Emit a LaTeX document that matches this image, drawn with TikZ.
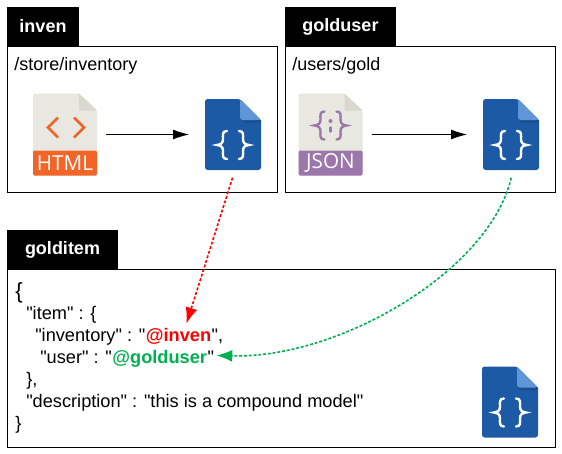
\documentclass[tikz,border=0pt]{standalone}
\usepackage{fontspec}
\setmainfont{Liberation Sans}[Ligatures=TeXOff]
\newfontfamily\iconfont{Open Sans}
\usetikzlibrary{arrows.meta}
\definecolor{fileblue}{HTML}{1C5AA6}
\definecolor{foldblue}{HTML}{5F96D8}
\definecolor{shadeblue}{HTML}{17508F}
\definecolor{sheet}{HTML}{E8E8E0}
\definecolor{sheetfold}{HTML}{D8D8CC}
\definecolor{htmlorange}{HTML}{F16529}
\definecolor{jsonpurple}{HTML}{9B77AB}
\definecolor{refgreen}{HTML}{00B050}
\newcommand{\filesheet}[2]{
  \fill[sheet, rounded corners=1pt] (-32,-41) -- (14,-41) -- (32,-24) -- (32,41) -- (-32,41) -- cycle;
  \fill[sheetfold] (14,-41) -- (32,-24) -- (14,-24) -- cycle;
  \fill[#1, rounded corners=1pt] (-32,16) -- (32,16) -- (32,41) -- (-32,41) -- cycle;
  \node[sheetlabel] (-label) at (0,28.5) {#2};
  \node[filearea, minimum width=48pt, minimum height=61.5pt] (-box) at (0,0) {};
}
\tikzset{
  pics/bracepair/.style={code={
    \draw[#1, line width=1.8pt, line cap=round] (-6,-14) .. controls (-11,-14) and (-10,-10) .. (-10,-6) .. controls (-10,-2) and (-12,-.5) .. (-16,0) .. controls (-12,.5) and (-10,2) .. (-10,6) .. controls (-10,10) and (-11,14) .. (-6,14);
    \draw[#1, line width=1.8pt, line cap=round] (6,-14) .. controls (11,-14) and (10,-10) .. (10,-6) .. controls (10,-2) and (12,-.5) .. (16,0) .. controls (12,.5) and (10,2) .. (10,6) .. controls (10,10) and (11,14) .. (6,14);
  }},
  pics/bluefile/.style={code={
    \fill[fileblue, rounded corners=2pt] (-28,-35.5) -- (7,-35.5) -- (28,-14.5) -- (28,35.5) -- (-28,35.5) -- cycle;
    \fill[shadeblue] (7,-20) -- (28,-14.5) -- (28,-12) -- (11,-12) -- (7,-16) -- cycle;
    \fill[foldblue, rounded corners=2pt] (7,-35.5) -- (28,-14.5) -- (7,-14.5) -- cycle;
    \pic at (0,10.5) {bracepair=white};
    \node[filearea, minimum width=42pt, minimum height=53.25pt] (-box) at (0,0) {};
  }},
  pics/htmlfile/.style={code={
    \filesheet{htmlorange}{HTML}
    \draw[htmlorange, line width=2pt] (-7,-17) -- (-17,-7) -- (-7,3);
    \draw[htmlorange, line width=2pt] (9,-17) -- (19,-7) -- (9,3);
  }},
  pics/jsonfile/.style={code={
    \filesheet{jsonpurple}{JSON}
    \pic at (0,-9) {bracepair=jsonpurple};
    \fill[jsonpurple] (0,-13.5) circle (2);
    \draw[jsonpurple, line width=2pt, line cap=round] (0,-7) -- (0,-3);
  }},
  filearea/.style={inner sep=0pt, outer sep=0pt},
  sheetlabel/.style={text=white, font=\iconfont\fontsize{15.5}{18}\selectfont},
  panel/.style={draw, line width=.75pt, anchor=north west, inner sep=0pt},
  paneltab/.style={fill=black, draw, line width=.75pt, text=white, anchor=south west, minimum height=28.5pt, inner sep=0pt, font=\bfseries\fontsize{13.5}{16}\selectfont},
  pathtext/.style={anchor=base west, inner sep=0pt, font=\fontsize{13.5}{16}\selectfont},
  codetext/.style={anchor=base west, inner sep=0pt, font=\fontsize{13.65}{16}\selectfont},
  reftext/.style={anchor=base west, inner sep=0pt, font=\bfseries\fontsize{13.65}{16}\selectfont},
  buildarrow/.style={-{Latex[length=12pt,width=7.5pt]}, line width=.75pt},
  linkarrow/.style={-{Latex[length=12pt,width=9pt]}, line width=1.2pt, dash pattern=on 2.2pt off 1.4pt, shorten <=6pt},
}
\begin{document}
\begin{tikzpicture}[x=.75pt, y=-.75pt, >=latex]
\useasboundingbox (0,0) rectangle (562,454);
\node[panel, minimum width=202.5pt, minimum height=109.5pt] (invenpanel) at (7,46) {};
\node[paneltab, minimum width=53.25pt] (inventab) at (invenpanel.north west) {inven};
\node[panel, minimum width=202.5pt, minimum height=109.5pt] (userpanel) at (285,46) {};
\node[paneltab, minimum width=82.5pt] (usertab) at (userpanel.north west) {golduser};
\node[panel, minimum width=411pt, minimum height=133.5pt] (itempanel) at (7,269) {};
\node[paneltab, minimum width=82.5pt] (itemtab) at (itempanel.north west) {golditem};
\node[pathtext] (invenpath) at (14,70) {/store/inventory};
\node[pathtext] (userpath) at (292,70) {/users/gold};
\pic (invenhtml) at (65,134.5) {htmlfile};
\pic (invenblue) at (233,134.5) {bluefile};
\pic (userjson) at (330.5,134.5) {jsonfile};
\pic (userblue) at (511,134.5) {bluefile};
\pic (itemblue) at (510,402) {bluefile};
\draw[buildarrow, shorten <=6.75pt, shorten >=12pt] (invenhtml-box.east) -- (invenblue-box.west);
\draw[buildarrow, shorten <=6.75pt, shorten >=12pt] (userjson-box.east) -- (userblue-box.west);
\node[codetext, font=\fontsize{16.5}{18}\selectfont] (openbrace) at (15,298) {\{};
\node[codetext] (itemline) at (26,319) {"item" : \{};
\node[codetext] (invenkey) at (35,341) {"inventory" : "};
\node[reftext, text=red] (invenref) at (invenkey.base east) {@inven};
\node[codetext] (invenend) at (invenref.base east) {",};
\node[codetext] (userkey) at (40,363) {"user" : "};
\node[reftext, text=refgreen] (userref) at (userkey.base east) {@golduser};
\node[codetext] (userend) at (userref.base east) {"};
\node[codetext] (itemclose) at (26,385) {\},};
\node[codetext] (descline) at (26,407) {"description" : "this is a compound model"};
\node[codetext] (closebrace) at (15,429) {\}};
\draw[linkarrow, red] ([xshift=1.5pt]invenblue-box.south) -- ([xshift=6pt,yshift=3pt]invenref.north);
\draw[linkarrow, refgreen] ([xshift=1.5pt]userblue-box.south) .. controls (490,270) and (340,359) .. ([xshift=1.5pt,yshift=1pt]userend.east);
\end{tikzpicture}
\end{document}
